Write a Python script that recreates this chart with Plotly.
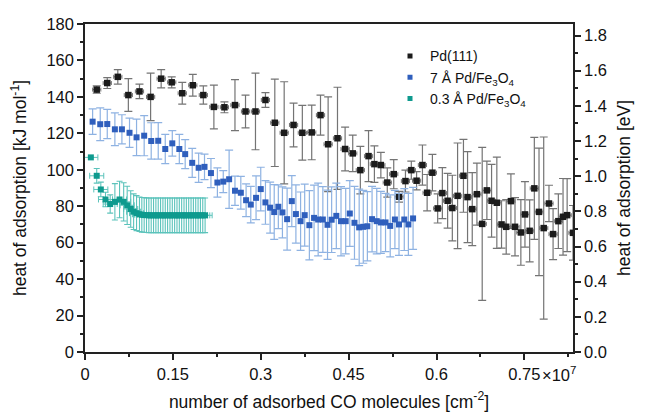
import plotly.graph_objects as go

# ---------------- data ----------------
pd111_x = [0.020, 0.038, 0.056, 0.074, 0.093, 0.112, 0.130, 0.148, 0.166, 0.184,
           0.202, 0.220, 0.238, 0.256, 0.274, 0.291, 0.308, 0.324, 0.340, 0.356,
           0.371, 0.387, 0.402, 0.415, 0.431, 0.444, 0.457, 0.470, 0.484, 0.494,
           0.505, 0.516, 0.527, 0.536, 0.547, 0.557, 0.566, 0.576, 0.584, 0.593,
           0.602, 0.610, 0.619, 0.627, 0.636, 0.646, 0.653, 0.661, 0.669, 0.678,
           0.686, 0.694, 0.703, 0.711, 0.719, 0.727, 0.734, 0.744, 0.751, 0.759,
           0.767, 0.775, 0.783, 0.792, 0.799, 0.808, 0.816, 0.823, 0.833]
pd111_y = [144.0, 147.6, 151.0, 141.0, 143.0, 140.0, 150.0, 148.0, 142.0, 146.4,
           141.0, 134.5, 134.3, 135.5, 132.0, 132.0, 138.3, 125.8, 120.3, 124.6,
           120.3, 120.5, 130.0, 114.0, 117.3, 111.4, 109.0, 99.8, 107.5, 103.1,
           102.6, 93.0, 97.6, 85.2, 93.8, 99.8, 94.0, 102.6, 87.4, 98.4,
           78.8, 87.2, 83.0, 79.0, 85.7, 96.7, 85.0, 78.4, 86.6, 70.3,
           88.7, 83.0, 81.9, 70.0, 68.7, 82.8, 68.7, 65.6, 75.5, 66.5,
           89.8, 76.9, 68.0, 81.5, 64.7, 71.8, 74.2, 75.1, 65.4]
pd111_err = [2, 3, 4, 9, 4, 13, 5, 3, 6, 6,
             5, 12, 3, 14, 9, 21, 4, 24, 28, 12,
             15, 15, 11, 26, 28, 12, 10, 13, 14, 10,
             7, 8, 8, 3, 6, 5, 5, 11, 10, 10,
             8, 14, 15, 18, 29, 20, 25, 20, 17, 42,
             16, 20, 25, 13, 15, 15, 16, 18, 18, 17,
             28, 35, 50, 10, 14, 15, 21, 20, 15]

pd7_x = [0.013, 0.026, 0.038, 0.051, 0.063, 0.076, 0.088, 0.101, 0.113, 0.125,
         0.137, 0.149, 0.161, 0.171, 0.183, 0.194, 0.204, 0.215, 0.226, 0.236,
         0.246, 0.256, 0.266, 0.275, 0.283, 0.292, 0.300, 0.308, 0.316, 0.323,
         0.330, 0.337, 0.345, 0.353, 0.360, 0.368, 0.375, 0.383, 0.391, 0.398,
         0.406, 0.414, 0.421, 0.429, 0.437, 0.445, 0.452, 0.460, 0.468, 0.475,
         0.482, 0.490, 0.498, 0.505, 0.513, 0.521, 0.529, 0.536, 0.545, 0.552,
         0.560]
pd7_y = [126.4, 125.0, 125.1, 122.2, 122.2, 120.3, 117.8, 118.7, 115.8, 115.9,
         111.4, 114.5, 111.4, 108.6, 103.8, 101.1, 101.6, 98.2, 93.0, 93.5,
         94.8, 88.5, 87.4, 83.3, 80.9, 84.6, 89.4, 82.1, 79.2, 76.8,
         79.7, 76.6, 72.9, 82.8, 75.7, 71.8, 75.1, 69.6, 73.6, 72.7,
         72.7, 69.8, 72.6, 74.7, 71.8, 71.8, 76.0, 70.9, 68.4, 68.7,
         69.0, 72.9, 71.8, 71.1, 71.1, 69.2, 72.7, 70.0, 72.7, 70.0,
         73.3]
pd7_err = [7, 9, 8, 9, 8, 8, 10, 11, 10, 10,
           8, 7, 8, 8, 8, 8, 7, 8, 8, 6,
           16, 8, 9, 9, 10, 12, 12, 12, 14, 15,
           12, 14, 17, 14, 16, 16, 17, 19, 18, 20,
           18, 19, 18, 18, 19, 18, 18, 20, 21, 20,
           19, 18, 18, 17, 16, 17, 16, 17, 17, 17,
           17]

pd03_x = [0.010, 0.020, 0.027, 0.035, 0.043, 0.051, 0.059, 0.066, 0.072, 0.078,
          0.083, 0.088, 0.093, 0.097, 0.101, 0.105, 0.109, 0.113, 0.117, 0.121,
          0.125, 0.129, 0.133, 0.137, 0.141, 0.145, 0.149, 0.153, 0.157, 0.161,
          0.165, 0.169, 0.173, 0.177, 0.181, 0.185, 0.189, 0.193, 0.197, 0.201,
          0.205]
pd03_y = [106.8, 96.7, 89.2, 83.7, 81.2, 82.4, 83.7, 82.4, 80.5, 78.5,
          77.0, 76.2, 75.6, 75.3, 75.2, 75.1, 75.0, 75.0, 75.0, 75.0,
          75.0, 75.0, 75.0, 75.0, 75.0, 75.0, 75.0, 75.0, 75.0, 75.0,
          75.0, 75.0, 75.0, 75.0, 75.0, 75.0, 75.0, 75.0, 75.0, 75.0,
          75.0]
pd03_err = [0, 4, 4, 4, 5, 10, 10, 10.5, 10.5, 10,
            9.8, 9.6, 9.5, 9.5, 9.5, 9.5, 9.5, 9.5, 9.5, 9.5,
            9.5, 9.5, 9.5, 9.5, 9.5, 9.5, 9.5, 9.5, 9.5, 9.5,
            9.5, 9.5, 9.5, 9.5, 9.5, 9.5, 9.5, 9.5, 9.5, 9.5,
            9.5]

series_names = ["Pd(111)", "7 Å Pd/Fe<sub>3</sub>O<sub>4</sub>",
                "0.3 Å Pd/Fe<sub>3</sub>O<sub>4</sub>"]
series_colors = ["#1b1b1b", "#2f5fbd", "#0e9a8e"]

x_tickvals = [0, 0.15, 0.3, 0.45, 0.6, 0.75]
x_ticktext = ["0", "0.15", "0.3", "0.45", "0.6", "0.75"]
x_multiplier = "×10<sup>7</sup>"
kj_per_ev = 96.485

# ---------------- figure ----------------
FONT = "Liberation Sans, Arial, sans-serif"
fig = go.Figure()

fig.add_trace(go.Scatter(
    x=pd111_x, y=pd111_y, mode="markers", name=series_names[0], showlegend=False,
    marker=dict(symbol="square", size=6.5, color=series_colors[0]),
    error_y=dict(type="data", array=pd111_err, color="#747474", thickness=1.2, width=4),
    error_x=dict(type="constant", value=0.007, color="#747474", thickness=1.0, width=2),
))
fig.add_trace(go.Scatter(
    x=pd7_x, y=pd7_y, mode="markers", name=series_names[1], showlegend=False,
    marker=dict(symbol="square", size=6, color=series_colors[1]),
    error_y=dict(type="data", array=pd7_err, color="#8eb2e2", thickness=1.2, width=4),
))
fig.add_trace(go.Scatter(
    x=pd03_x, y=pd03_y, mode="markers", name=series_names[2], showlegend=False,
    marker=dict(symbol="square", size=6, color=series_colors[2]),
    error_y=dict(type="data", array=pd03_err, color="#5cc3bb", thickness=1.1, width=3),
    error_x=dict(type="constant", value=0.012, color="#5cc3bb", thickness=1.0, width=3),
))
# legend entries (small square symbols as in the reference)
for nm, col in zip(series_names, series_colors):
    fig.add_trace(go.Scatter(x=[None], y=[None], mode="markers", name=nm,
                             marker=dict(symbol="square", size=5, color=col)))
# helper trace to carry the eV axis
fig.add_trace(go.Scatter(x=[0], y=[0], yaxis="y2", mode="markers",
                         marker=dict(opacity=0), showlegend=False, hoverinfo="skip"))

axis_common = dict(showgrid=False, zeroline=False, linecolor="#222", linewidth=1.5,
                   ticks="outside", tickcolor="#222", tickwidth=1.5, ticklen=6,
                   tickfont=dict(family=FONT, size=16.5, color="#111"))
minor_common = dict(ticks="outside", ticklen=3, tickcolor="#222", tickwidth=1.5)

# the page body adds an 8px offset, so the figure is sized/margined to compensate
fig.update_layout(
    width=640, height=408,
    margin=dict(l=77, r=75, t=16, b=64, autoexpand=False),
    paper_bgcolor="white", plot_bgcolor="white",
    font=dict(family=FONT, size=14, color="#111"),
    showlegend=True,
    legend=dict(x=0.625, y=0.95, xanchor="left", yanchor="top",
                bgcolor="rgba(0,0,0,0)", font=dict(family=FONT, size=14, color="#111"),
                tracegroupgap=0),
    xaxis=dict(**axis_common, range=[0, 0.833], tickvals=x_tickvals, ticktext=x_ticktext,
               mirror=True, minor=dict(dtick=0.075, tick0=0, **minor_common),
               title=dict(text="number of adsorbed CO molecules [cm<sup>-2</sup>]",
                          font=dict(family=FONT, size=17.5), standoff=14)),
    yaxis=dict(**axis_common, range=[0, 180], dtick=20, tick0=0,
               minor=dict(dtick=10, **minor_common),
               title=dict(text="heat of adsorption [kJ mol<sup>-1</sup>]",
                          font=dict(family=FONT, size=17.5), standoff=15)),
    yaxis2=dict(**axis_common, overlaying="y", side="right",
                range=[0, 180 / kj_per_ev], dtick=0.2, tick0=0, tickformat=".1f",
                minor=dict(dtick=0.1, **minor_common),
                title=dict(text="heat of adsorption [eV]",
                           font=dict(family=FONT, size=17.5), standoff=12)),
)
# axis multiplier next to the last x tick label
fig.add_annotation(text=x_multiplier, x=x_tickvals[-1], xref="x", xshift=16,
                   y=0, yref="paper", yshift=-10, xanchor="left", yanchor="top",
                   showarrow=False, font=dict(family=FONT, size=16.5, color="#111"))

fig.write_html("out.html")
